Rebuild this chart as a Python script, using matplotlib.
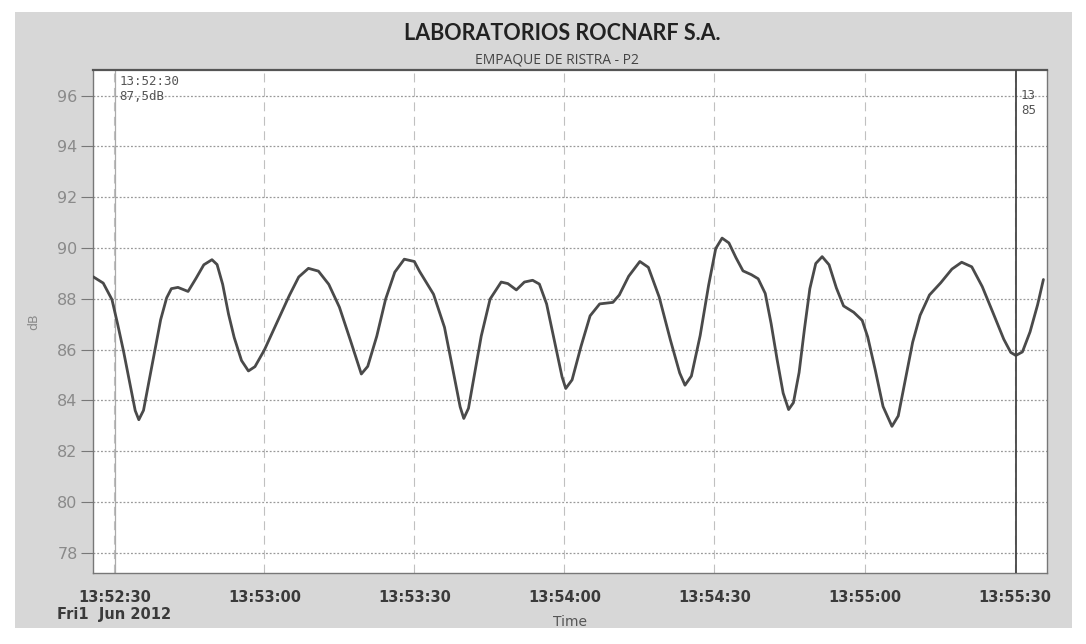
import matplotlib
matplotlib.use('Agg')
import matplotlib.pyplot as plt
from matplotlib.patches import Rectangle

# seconds after 13:52:30, sound level in dB
t_sec = [-4.28, -2.25, -0.50, 0.65, 1.80, 2.98, 4.15, 4.87, 5.81, 6.95,
         8.10, 9.24, 10.44, 11.38, 12.70, 14.72, 16.29, 17.87, 19.50, 20.52,
         21.64, 22.81, 23.94, 25.41, 26.79, 28.10, 29.99, 32.48, 34.97, 36.85,
         38.79, 40.79, 42.86, 44.99, 47.18, 49.37, 50.65, 52.46, 54.23, 56.06,
         57.96, 59.97, 61.02, 63.81, 66.00, 67.57, 69.13, 69.86, 70.80, 71.93,
         73.35, 75.12, 77.34, 78.67, 80.37, 81.98, 83.63, 84.98, 86.42, 87.97,
         89.51, 90.25, 91.52, 93.31, 95.12, 97.04, 99.68, 100.96, 102.84, 105.07,
         106.77, 108.94, 111.18, 113.04, 114.10, 115.38, 117.13, 118.82, 120.25, 121.52,
         122.88, 124.29, 125.70, 127.38, 128.73, 130.15, 131.32, 132.53, 133.73, 134.82,
         135.78, 136.92, 137.99, 139.07, 140.25, 141.53, 142.91, 144.37, 145.81, 147.84,
         149.54, 150.64, 152.16, 153.71, 155.49, 156.75, 158.19, 159.63, 161.12, 162.99,
         165.24, 167.48, 169.43, 171.45, 173.55, 175.70, 177.85, 179.25, 180.27, 181.58,
         183.11, 184.61, 185.78]
level_db = [88.87, 88.62, 87.97, 86.99, 85.95, 84.77, 83.60, 83.24, 83.61, 84.80,
            85.99, 87.18, 88.04, 88.40, 88.45, 88.29, 88.80, 89.34, 89.54, 89.35,
            88.57, 87.40, 86.48, 85.57, 85.16, 85.33, 85.99, 87.06, 88.13, 88.86,
            89.20, 89.09, 88.57, 87.67, 86.37, 85.04, 85.34, 86.53, 87.99, 89.05,
            89.56, 89.47, 89.08, 88.18, 86.88, 85.32, 83.75, 83.29, 83.69, 84.95,
            86.53, 87.99, 88.66, 88.60, 88.35, 88.66, 88.73, 88.58, 87.80, 86.36,
            84.93, 84.47, 84.81, 86.13, 87.33, 87.80, 87.86, 88.15, 88.89, 89.47,
            89.24, 88.07, 86.38, 85.08, 84.60, 84.96, 86.55, 88.53, 89.98, 90.39,
            90.20, 89.62, 89.10, 88.95, 88.79, 88.21, 87.03, 85.60, 84.29, 83.64,
            83.91, 85.10, 86.81, 88.40, 89.39, 89.66, 89.34, 88.43, 87.72, 87.47,
            87.15, 86.50, 85.19, 83.76, 82.98, 83.39, 84.84, 86.29, 87.35, 88.15,
            88.63, 89.17, 89.44, 89.26, 88.48, 87.45, 86.41, 85.89, 85.77, 85.91,
            86.70, 87.76, 88.76]

tick_sec = [0, 30, 60, 90, 120, 150, 180]
tick_labels = ['13:52:30\nFri1  Jun 2012', '13:53:00', '13:53:30', '13:54:00',
               '13:54:30', '13:55:00', '13:55:30']
y_ticks = [78, 80, 82, 84, 86, 88, 90, 92, 94, 96]

fig = plt.figure(figsize=(10.86, 6.44), dpi=100, facecolor='white')
# grey panel of the scanned print-out
fig.patches.append(Rectangle((0.014, 0.025), 0.973, 0.956, transform=fig.transFigure,
                             facecolor='#d7d7d7', edgecolor='none', zorder=-5))

ax = fig.add_axes([0.0856, 0.110, 0.8785, 0.781])
ax.set_facecolor('white')
ax.plot(t_sec, level_db, color='#4a4a4a', lw=2.0, zorder=3,
        solid_joinstyle='round', solid_capstyle='round')

ax.set_xlim(-4.3, 186.5)
ax.set_ylim(77.2, 97.0)
ax.set_xticks(tick_sec)
ax.set_xticklabels(tick_labels, fontsize=10.5, color='#3a3a3a', fontweight='bold')
ax.set_yticks(y_ticks)
ax.set_yticklabels([str(v) for v in y_ticks], fontsize=11.5, color='#8a8a8a')
ax.tick_params(axis='y', direction='out', length=9, color='#777777', pad=2)
ax.tick_params(axis='x', length=0, pad=12)
ax.set_xlabel('Time', fontsize=10, color='#555555', labelpad=-5)
ax.set_ylabel('dB', fontsize=9, color='#8a8a8a', labelpad=12)

ax.grid(axis='y', color='#999999', ls=(0, (1.5, 1.5)), lw=0.9)
ax.grid(axis='x', color='#c0c0c0', ls=(0, (8, 5)), lw=0.8)
for s in ax.spines.values():
    s.set_color('#777777')
    s.set_linewidth(1.0)
ax.spines['top'].set_linewidth(1.6)
ax.spines['top'].set_color('#555555')

# cursors
ax.axvline(0.2, color='#aaaaaa', lw=0.9, zorder=2)
ax.axvline(180.3, color='#444444', lw=1.3, zorder=4)
ax.text(1.0, 96.55, '13:52:30', fontsize=9, color='#555555', va='center',
        family='DejaVu Sans Mono')
ax.text(1.0, 95.95, '87,5dB', fontsize=9, color='#555555', va='center',
        family='DejaVu Sans Mono')
ax.text(181.3, 96.0, '13', fontsize=9, color='#555555', va='center',
        family='DejaVu Sans Mono', clip_on=True)
ax.text(181.3, 95.4, '85', fontsize=9, color='#555555', va='center',
        family='DejaVu Sans Mono', clip_on=True)

fig.text(0.518, 0.948, 'LABORATORIOS ROCNARF S.A.', ha='center', va='center',
         fontsize=15.5, fontweight='bold', color='#222222', family='Lato')
fig.text(0.513, 0.907, 'EMPAQUE DE RISTRA - P2', ha='center', va='center',
         fontsize=10, color='#444444', family='Open Sans')

fig.savefig('out.png', dpi=100, facecolor=fig.get_facecolor())
